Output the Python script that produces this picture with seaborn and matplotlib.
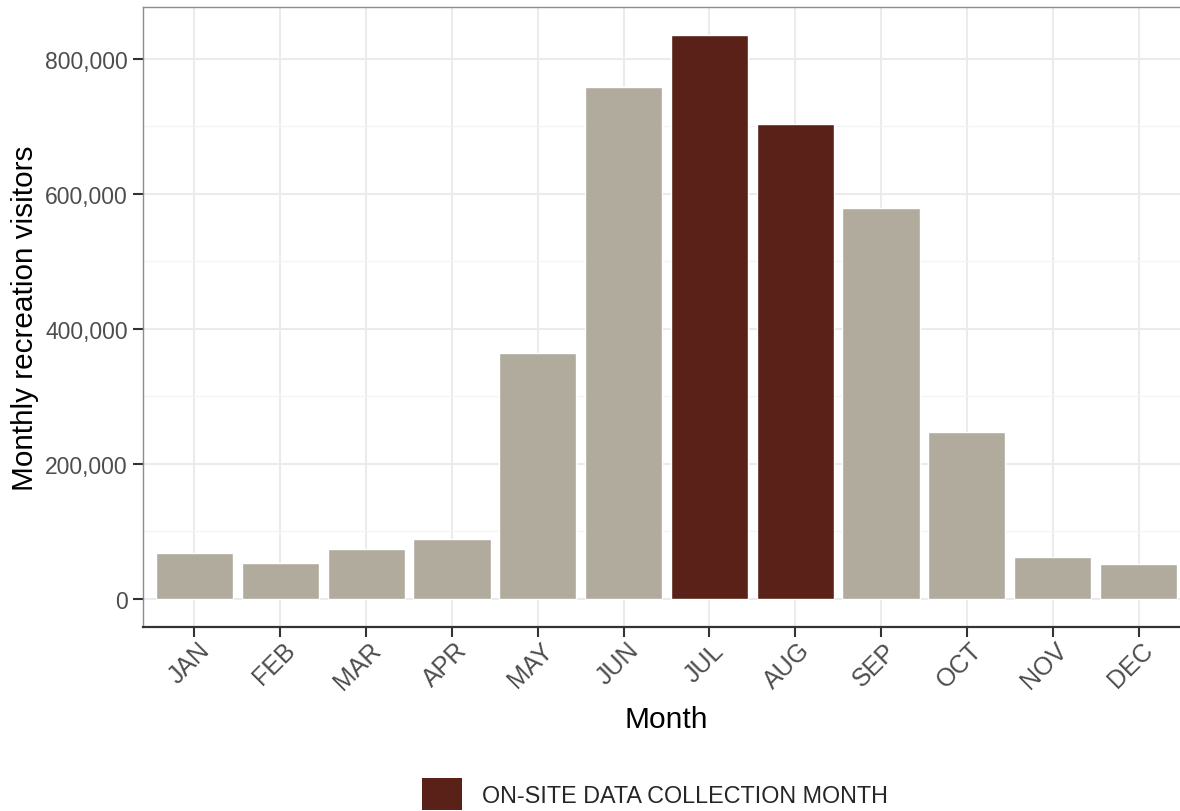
import matplotlib
matplotlib.use("Agg")
import matplotlib.pyplot as plt
import matplotlib.ticker as mticker
import matplotlib.transforms as mtransforms
from matplotlib.patches import Patch
import seaborn as sns
import pandas as pd

months = ["JAN", "FEB", "MAR", "APR", "MAY", "JUN", "JUL", "AUG", "SEP", "OCT", "NOV", "DEC"]
visitors = [68000, 53000, 74000, 88000, 364000, 758000, 835000, 703000, 579000, 247000, 62000, 52000]
collection = ["no", "no", "no", "no", "no", "no", "yes", "yes", "no", "no", "no", "no"]
legend_label = "ON-SITE DATA COLLECTION MONTH"

gray_col = "#B1AB9D"
dark_col = "#592118"

df = pd.DataFrame({"month": months, "visitors": visitors, "collection": collection})

sns.set_theme(style="white")
plt.rcParams["font.family"] = ["Liberation Sans", "DejaVu Sans"]

fig = plt.figure(figsize=(11.8, 8.12), dpi=100)
ax = fig.add_axes([143 / 1180, 184 / 812, (1190 - 143) / 1180, (628 - 8) / 812])

sns.barplot(data=df, x="month", y="visitors", hue="collection", order=months,
            palette={"no": gray_col, "yes": dark_col}, dodge=False, width=0.9,
            saturation=1, ax=ax, legend=False, zorder=3)

ax.set_xlim(-0.6, 11.6)
ax.set_ylim(-41750, 876750)
ax.yaxis.set_major_locator(mticker.MultipleLocator(200000))
ax.yaxis.set_minor_locator(mticker.MultipleLocator(100000))
ax.yaxis.set_major_formatter(mticker.FuncFormatter(lambda v, p: f"{int(v):,}"))

ax.grid(True, which="major", axis="both", color="#EBEBEB", linewidth=1.5, zorder=0)
ax.grid(True, which="minor", axis="y", color="#F4F4F4", linewidth=0.9, zorder=0)
ax.set_axisbelow(True)

for s in ["left", "top", "right"]:
    ax.spines[s].set_color("#8C8C8C")
    ax.spines[s].set_linewidth(1.0)
ax.spines["bottom"].set_color("#333333")
ax.spines["bottom"].set_linewidth(1.6)

ax.tick_params(axis="both", which="major", length=7, width=1.5, color="#333333",
               labelsize=16.5, labelcolor="#4D4D4D", pad=4, direction="out",
               bottom=True, left=True)
ax.tick_params(axis="y", which="minor", length=0)
ax.tick_params(axis="x", labelsize=18, pad=9)

offset = mtransforms.ScaledTranslation(11 / 100, 3 / 100, fig.dpi_scale_trans)
for lab in ax.get_xticklabels():
    lab.set_rotation(45)
    lab.set_ha("right")
    lab.set_va("center")
    lab.set_rotation_mode("anchor")
    lab.set_transform(lab.get_transform() + offset)

ax.set_xlabel("Month", fontsize=21.5, color="black", labelpad=8)
ax.set_ylabel("Monthly recreation visitors", fontsize=21.4, color="black", labelpad=4)

handles = [Patch(facecolor=dark_col, edgecolor="none", label=legend_label)]
fig.legend(handles=handles, loc="center", bbox_to_anchor=(655 / 1180, 1 - 795 / 812),
           frameon=False, fontsize=16.8, handlelength=1.7, handleheight=1.7,
           handletextpad=0.85, borderaxespad=0, borderpad=0)

fig.savefig("out.png", dpi=100)
